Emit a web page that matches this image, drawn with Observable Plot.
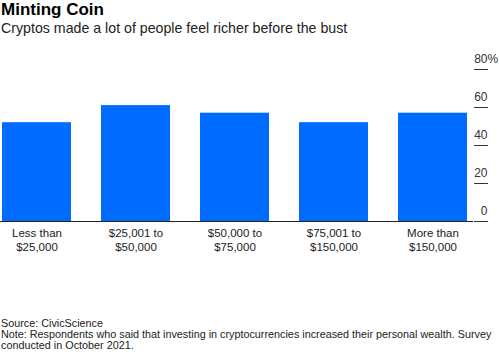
<!DOCTYPE html>
<html>
<head>
<meta charset="utf-8">
<script src="https://cdn.jsdelivr.net/npm/d3@7"></script>
<script src="https://cdn.jsdelivr.net/npm/@observablehq/plot@0.6"></script>
<style>
  html, body { margin: 0; padding: 0; background: #fff; }
  body { width: 499px; height: 356px; position: relative; overflow: hidden; font-family: "Liberation Sans", Arial, sans-serif; }
  #title { position: absolute; left: 1px; top: 0px; font-size: 17px; line-height: 20px; font-weight: 700; color: #000; white-space: nowrap; }
  #subtitle { position: absolute; left: 1px; top: 19px; font-size: 14.2px; line-height: 18px; color: #222; white-space: nowrap; }
  #chart { position: absolute; left: 0; top: 37px; }
  #footer { position: absolute; left: 1px; top: 318px; font-size: 10.8px; line-height: 11px; color: #222; white-space: nowrap; }
</style>
</head>
<body>
<div id="title">Minting Coin</div>
<div id="subtitle">Cryptos made a lot of people feel richer before the bust</div>
<div id="chart"></div>
<div id="footer">Source: CivicScience<br>Note: Respondents who said that investing in cryptocurrencies increased their personal wealth. Survey<br>conducted in October 2021.</div>
<script>
const categories = ["Less than\n$25,000", "$25,001 to\n$50,000", "$50,000 to\n$75,000", "$75,001 to\n$150,000", "More than\n$150,000"];
const values = [52, 61, 57, 52, 57];
const yTicks = [0, 20, 40, 60, 80];

const data = categories.map((c, i) => ({category: c, value: values[i]}));

const plot = Plot.plot({
  width: 499,
  height: 225,
  marginTop: 32,
  marginBottom: 41,
  marginLeft: 0,
  marginRight: 26,
  style: {fontFamily: "'Liberation Sans', Arial, sans-serif", color: "#333", background: "transparent"},
  x: {type: "band", domain: categories, range: [1, 467], paddingInner: 0.305, paddingOuter: 0},
  y: {domain: [0, 80]},
  marks: [
    Plot.barY(data, {x: "category", y: "value", fill: "#006cff"}),
    Plot.ruleY([0], {stroke: "#222", strokeWidth: 1.2}),
    Plot.axisY({anchor: "right", ticks: yTicks, tickSize: 14, tickFormat: () => "", label: null, stroke: "#333"}),
    Plot.axisY({anchor: "right", ticks: yTicks, tickSize: 0, tickPadding: 14, textAnchor: "end", dy: -10, fontSize: 12, fill: "#333", label: null}),
    Plot.text([80], {y: d => d, text: () => "%", frameAnchor: "right", dx: 14, dy: -10, textAnchor: "start", fontSize: 12, fill: "#333"}),
    Plot.axisX({tickSize: 0, tickPadding: 6, fontSize: 11.5, lineHeight: 1.2, label: null, fill: "#222"})
  ]
});
document.getElementById("chart").appendChild(plot);
</script>
</body>
</html>
